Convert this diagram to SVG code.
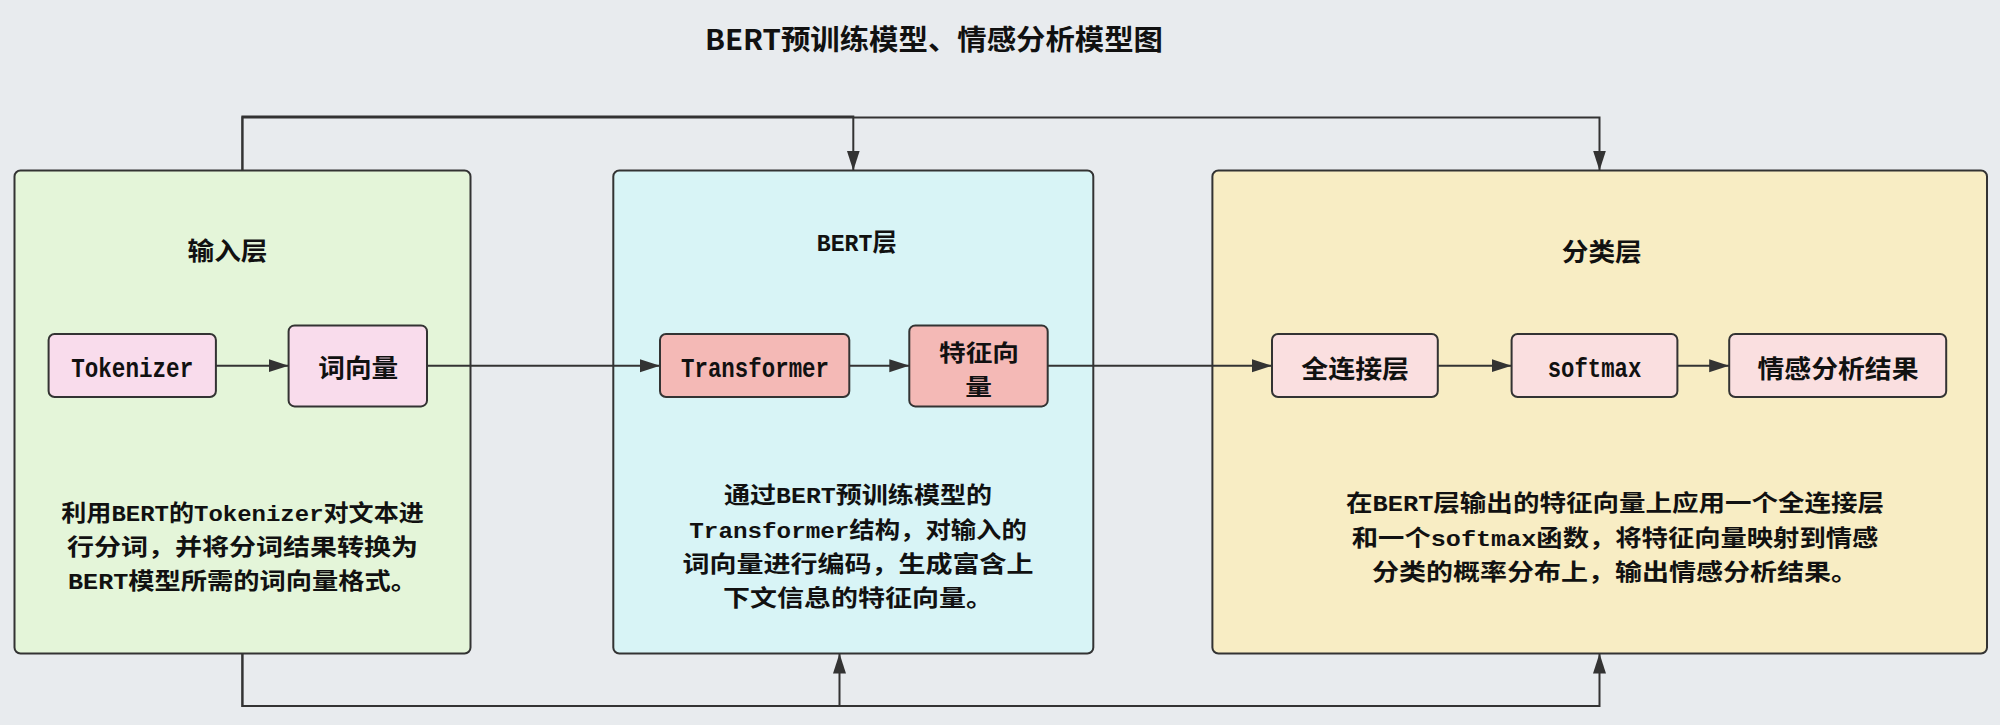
<svg xmlns="http://www.w3.org/2000/svg" width="2000" height="725" viewBox="0 0 2000 725">
<defs>
<marker id="arr" markerUnits="userSpaceOnUse" markerWidth="20" markerHeight="14" refX="20" refY="7" orient="auto">
<path d="M0,0.5 L20,7 L0,13.5 z" fill="#333"/>
</marker>
<style>
.bg{fill:#e8ebee}
.grp{stroke:#333;stroke-width:2}
.node{stroke:#333;stroke-width:2}
.cjk{font-family:"Noto Sans CJK SC",sans-serif;font-weight:700;font-size:23px;fill:#111}
.lbl{font-size:25px}
.lat{font-family:"Liberation Mono","Noto Sans CJK SC",monospace;font-weight:700;font-size:22px}
.mono{font-family:"Liberation Mono",monospace;font-weight:700;font-size:27px;fill:#111}
.conn{fill:none;stroke:#333;stroke-width:2}
</style>
</defs>
<rect class="bg" x="0" y="0" width="2000" height="725"/>

<g id="title">
<text class="cjk" x="705" y="49.5" style="font-size:28px" textLength="458" lengthAdjust="spacingAndGlyphs">BERT预训练模型、情感分析模型图</text>
</g>

<g id="input-layer">
<rect class="grp" x="14.5" y="170.5" width="456" height="483" rx="6" fill="#e4f5d9"/>
<text class="cjk lbl" x="187.5" y="259.5" textLength="80" lengthAdjust="spacingAndGlyphs">输入层</text>
<text class="cjk" x="61.3" y="521" textLength="362.5" lengthAdjust="spacingAndGlyphs">利用<tspan class="lat">BERT</tspan>的<tspan class="lat">Tokenizer</tspan>对文本进</text>
<text class="cjk" x="67" y="555" textLength="351" lengthAdjust="spacingAndGlyphs">行分词，并将分词结果转换为</text>
<text class="cjk" x="68" y="589" textLength="349" lengthAdjust="spacingAndGlyphs"><tspan class="lat">BERT</tspan>模型所需的词向量格式。</text>
</g>

<g id="bert-layer">
<rect class="grp" x="613.3" y="170.5" width="480" height="483" rx="6" fill="#d8f4f6"/>
<text class="cjk lbl" x="816.7" y="250.5" textLength="80" lengthAdjust="spacingAndGlyphs"><tspan class="lat" style="font-size:24px">BERT</tspan>层</text>
<text class="cjk" x="724" y="503" textLength="268" lengthAdjust="spacingAndGlyphs">通过<tspan class="lat">BERT</tspan>预训练模型的</text>
<text class="cjk" x="689.3" y="538" textLength="337.5" lengthAdjust="spacingAndGlyphs"><tspan class="lat">Transformer</tspan>结构，对输入的</text>
<text class="cjk" x="682.5" y="572" textLength="351" lengthAdjust="spacingAndGlyphs">词向量进行编码，生成富含上</text>
<text class="cjk" x="723" y="606" textLength="270" lengthAdjust="spacingAndGlyphs">下文信息的特征向量。</text>
</g>

<g id="class-layer">
<rect class="grp" x="1212.4" y="170.5" width="774.6" height="483" rx="6" fill="#f8edc4"/>
<text class="cjk lbl" x="1561.8" y="260.5" textLength="80" lengthAdjust="spacingAndGlyphs">分类层</text>
<text class="cjk" x="1346" y="511" textLength="538" lengthAdjust="spacingAndGlyphs">在<tspan class="lat">BERT</tspan>层输出的特征向量上应用一个全连接层</text>
<text class="cjk" x="1351.8" y="545.5" textLength="526.5" lengthAdjust="spacingAndGlyphs">和一个<tspan class="lat">softmax</tspan>函数，将特征向量映射到情感</text>
<text class="cjk" x="1372" y="579.5" textLength="486" lengthAdjust="spacingAndGlyphs">分类的概率分布上，输出情感分析结果。</text>
</g>

<g id="tokenizer">
<rect class="node" x="48.6" y="334" width="167.3" height="63" rx="6" fill="#f9dcec"/>
<text class="mono" x="71.2" y="377" textLength="122" lengthAdjust="spacingAndGlyphs">Tokenizer</text>
</g>
<g id="word-vector">
<rect class="node" x="288.6" y="325.4" width="138.4" height="81" rx="6" fill="#f9dcec"/>
<text class="cjk lbl" x="318.3" y="376.5" textLength="80" lengthAdjust="spacingAndGlyphs">词向量</text>
</g>
<g id="transformer">
<rect class="node" x="660" y="334" width="189.3" height="63" rx="6" fill="#f4b9b6"/>
<text class="mono" x="681" y="377" textLength="148" lengthAdjust="spacingAndGlyphs">Transformer</text>
</g>
<g id="feature-vector">
<rect class="node" x="909.3" y="325.4" width="138.4" height="81" rx="6" fill="#f4b9b6"/>
<text class="cjk" x="939" y="361" textLength="80" lengthAdjust="spacingAndGlyphs" style="font-size:22.8px">特征向</text>
<text class="cjk" x="965.2" y="394.5" textLength="26.7" lengthAdjust="spacingAndGlyphs" style="font-size:22.8px">量</text>
</g>
<g id="fc-layer">
<rect class="node" x="1272" y="334" width="165.8" height="63" rx="6" fill="#fadfe0"/>
<text class="cjk lbl" x="1301.3" y="378" textLength="107.7" lengthAdjust="spacingAndGlyphs">全连接层</text>
</g>
<g id="softmax">
<rect class="node" x="1511.6" y="334" width="165.8" height="63" rx="6" fill="#fadfe0"/>
<text class="mono" x="1547.7" y="377" textLength="93.6" lengthAdjust="spacingAndGlyphs">softmax</text>
</g>
<g id="result">
<rect class="node" x="1729.2" y="334" width="217" height="63" rx="6" fill="#fadfe0"/>
<text class="cjk lbl" x="1757.5" y="378" textLength="161" lengthAdjust="spacingAndGlyphs">情感分析结果</text>
</g>

<g id="connectors">
<path class="conn" d="M215.9,365.7 H288.6" marker-end="url(#arr)"/>
<path class="conn" d="M427,365.7 H660" marker-end="url(#arr)"/>
<path class="conn" d="M849.3,365.7 H909.3" marker-end="url(#arr)"/>
<path class="conn" d="M1047.7,365.7 H1272" marker-end="url(#arr)"/>
<path class="conn" d="M1437.8,365.7 H1511.6" marker-end="url(#arr)"/>
<path class="conn" d="M1677.4,365.7 H1729.2" marker-end="url(#arr)"/>
<path class="conn" d="M242.4,170.5 V116.5 H853.3 V170.5" marker-end="url(#arr)"/>
<path class="conn" d="M242.4,170.5 V117.5 H1599.5 V170.5" marker-end="url(#arr)"/>
<path class="conn" d="M242.4,653.5 V706 H839.5 V653.5" stroke-width="2.6" marker-end="url(#arr)"/>
<path class="conn" d="M242.4,653.5 V706 H1599.5 V653.5" marker-end="url(#arr)"/>
</g>
</svg>
